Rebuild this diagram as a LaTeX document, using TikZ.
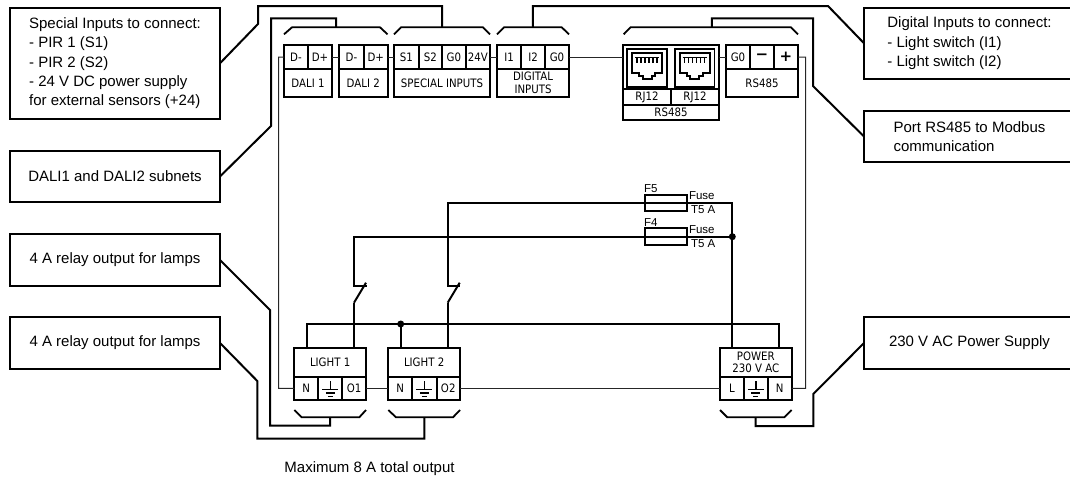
\documentclass[tikz,border=0pt]{standalone}
\usepackage{fontspec}
\setmainfont{Liberation Sans}
\newfontfamily\termfam[FakeStretch=0.88]{DejaVu Sans}
\newfontfamily\signfam{DejaVu Sans Bold}
\tikzset{
 x=1pt,y=-1pt,
 note/.style={draw,line width=2pt,align=left,inner sep=0pt,outer sep=0pt,font=\fontsize{15}{19.3}\selectfont},
 leader/.style={line width=2pt,line join=miter},
 bracket/.style={line width=1.8pt},
 thinwire/.style={line width=1pt,color=black!85},
 power/.style={line width=2pt},
 cellbox/.style={draw,line width=2pt,inner sep=0pt,outer sep=0pt,align=center,font=\termfam\fontsize{11.6}{13.5}\selectfont},
 rjframe/.style={draw,line width=1.6pt,inner sep=0pt,outer sep=0pt},
 small/.style={inner sep=0pt,outer sep=0pt,font=\fontsize{11.5}{13}\selectfont},
 dot/.style={circle,fill=black,inner sep=0pt,minimum size=7pt},
}
% name, x0, y0, x1, y1, text
\newcommand{\cellat}[6]{\node[cellbox,minimum width={#4-#2},minimum height={#5-#3}] (#1) at ({(#2+#4)/2},{(#3+#5)/2}) {#6};}
\newcommand{\noteat}[6]{\node[note,minimum width={#4-#2},minimum height={#5-#3}] (#1) at ({(#2+#4)/2},{(#3+#5)/2}) {#6};}
\newcommand{\earth}[1]{\begin{scope}[shift={(#1.center)}]
 \draw[line width=1.6pt] (0,-7)--(0,1) (-8,1)--(8,1);
 \draw[line width=1.6pt] (-4.5,4.5)--(4.5,4.5);
 \draw[line width=1.6pt] (-2.5,8)--(2.5,8);
 \end{scope}}
\newcommand{\jack}[1]{\begin{scope}[shift={(#1.center)}]
 \draw[line width=2pt,line join=miter] (-14.8,-14.7)--(14.8,-14.7)--(14.8,5.3)--(8,5.3)--(8,8.3)--(4.5,8.3)--(4.5,11.3)--(-4.5,11.3)--(-4.5,8.3)--(-8,8.3)--(-8,5.3)--(-14.8,5.3)--cycle;
 \draw[line width=1.5pt] (-12,-10.7)--(12,-10.7);
 \foreach \px in {-10,-6,-2,2,6,10} \draw[line width=1.5pt] (\px,-10.7)--(\px,-5);
 \end{scope}}
\begin{document}
\begin{tikzpicture}
\useasboundingbox (0,0) rectangle (1070,479);
\begin{scope}
\clip (0,0) rectangle (1070,479);
% callouts
\noteat{nSpecial}{10}{7.5}{220}{119}{Special Inputs to connect:\\- PIR 1 (S1)\\- PIR 2 (S2)\\- 24 V DC power supply\\for external sensors (+24)}
\noteat{nDali}{10}{151}{220}{202}{DALI1 and DALI2 subnets}
\noteat{nRelayA}{10}{234}{220}{286}{4 A relay output for lamps}
\noteat{nRelayB}{10}{317}{220}{369}{4 A relay output for lamps}
\noteat{nDigital}{864}{7.5}{1075}{79}{Digital Inputs to connect:\\- Light switch (I1)\\- Light switch (I2)}
\noteat{nPort}{864}{111}{1075}{162}{Port RS485 to Modbus\\communication}
\noteat{nPower}{864}{317}{1075}{369}{230 V AC Power Supply}
\end{scope}
% top terminals
\cellat{dOneM}{284}{45}{308}{69}{D-}
\cellat{dOneP}{308}{45}{332}{69}{D+}
\cellat{dOneL}{284}{69}{332}{97}{DALI 1}
\cellat{dTwoM}{339}{45}{364}{69}{D-}
\cellat{dTwoP}{364}{45}{387.5}{69}{D+}
\cellat{dTwoL}{339}{69}{387.5}{97}{DALI 2}
\cellat{sOne}{394}{45}{418.5}{69}{S1}
\cellat{sTwo}{418.5}{45}{442}{69}{S2}
\cellat{sGnd}{442}{45}{465.7}{69}{G0}
\cellat{sVolt}{465.7}{45}{490}{69}{24V}
\cellat{sLab}{394}{69}{490}{97}{SPECIAL INPUTS}
\cellat{iOne}{497}{45}{521}{69}{I1}
\cellat{iTwo}{521}{45}{545}{69}{I2}
\cellat{iGnd}{545}{45}{569}{69}{G0}
\cellat{iLab}{497}{69}{569}{97}{DIGITAL\\INPUTS}
% RJ12 block
\cellat{rjBody}{623}{45}{719}{89.3}{}
\cellat{rjLabA}{623}{89.3}{671}{104.7}{RJ12}
\cellat{rjLabB}{671}{89.3}{719}{104.7}{RJ12}
\cellat{rjLab}{623}{104.7}{719}{120}{RS485}
\node[rjframe,minimum width=39.5pt,minimum height=37.5pt] (jackA) at (647,68) {};
\node[rjframe,minimum width=39.5pt,minimum height=37.5pt] (jackB) at (694.7,68) {};
\jack{jackA}
\jack{jackB}
\cellat{rGnd}{726}{45}{750}{69}{G0}
\cellat{rMinus}{750}{45}{774}{69}{\signfam\fontsize{15}{15}\selectfont −}
\cellat{rPlus}{774}{45}{798}{69}{\signfam\fontsize{15}{15}\selectfont +}
\cellat{rLab}{726}{69}{798}{97}{RS485}
% bottom terminals
\cellat{lOneT}{294.3}{348.3}{366}{376.7}{LIGHT 1}
\cellat{lOneN}{294.3}{376.7}{318.3}{400}{N}
\cellat{lOneE}{318.3}{376.7}{342.3}{400}{}
\cellat{lOneO}{342.3}{376.7}{366}{400}{O1}
\cellat{lTwoT}{388.3}{348.3}{460}{376.7}{LIGHT 2}
\cellat{lTwoN}{388.3}{376.7}{412.3}{400}{N}
\cellat{lTwoE}{412.3}{376.7}{436.5}{400}{}
\cellat{lTwoO}{436.5}{376.7}{460}{400}{O2}
\cellat{pwT}{720}{348.3}{791.7}{376.7}{POWER\\[-2pt]230 V AC}
\cellat{pwL}{720}{376.7}{744}{400}{L}
\cellat{pwE}{744}{376.7}{767.7}{400}{}
\cellat{pwN}{767.7}{376.7}{791.7}{400}{N}
\earth{lOneE}
\earth{lTwoE}
\earth{pwE}
% thin wires between terminals
\draw[thinwire] (dOneP.east)--(dTwoM.west);
\draw[thinwire] (dTwoP.east)--(sOne.west);
\draw[thinwire] (sVolt.east)--(iOne.west);
\draw[thinwire] (iGnd.east)--(rjBody.west|-iGnd.east);
\draw[thinwire] (rjBody.east|-rGnd.west)--(rGnd.west);
\draw[thinwire] (dOneM.west)-|(278.5,388.3)--(lOneN.west);
\draw[thinwire] (lOneO.east)--(lTwoN.west);
\draw[thinwire] (lTwoO.east)--(pwL.west);
\draw[thinwire] (rPlus.east)-|(805.7,388.3)--(pwN.east);
% brackets
\coordinate (bDali) at (336,27.3);
\coordinate (bSpec) at (442,27.3);
\coordinate (bDig) at (532.8,27.3);
\coordinate (bRs) at (711.8,27.3);
\coordinate (bLOne) at (330,417.3);
\coordinate (bLTwo) at (424.3,417.3);
\coordinate (bPw) at (755.7,417.3);
\draw[bracket] (284,34.3)--(292,27.3)--(380,27.3)--(387.5,34.3);
\draw[bracket] (394,34.3)--(401,27.3)--(483,27.3)--(490,34.3);
\draw[bracket] (497,34.3)--(504,27.3)--(561.7,27.3)--(569,34.3);
\draw[bracket] (623.7,34.3)--(630.5,27.3)--(791,27.3)--(798,34.3);
\draw[bracket] (294.3,410)--(301.7,417.3)--(359.3,417.3)--(366,410);
\draw[bracket] (388.3,410)--(396,417.3)--(453,417.3)--(460,410);
\draw[bracket] (720,410)--(727.3,417.3)--(784.3,417.3)--(791.7,410);
% leaders
\draw[leader] (nSpecial.east)--(258,24)--(258,6)--(442,6)--(bSpec);
\draw[leader] (nDali.east)--(271,126)--(271,18.3)--(336,18.3)--(bDali);
\draw[leader] (nRelayA.east)--(270,310)--(270,425.7)--(330,425.7)--(bLOne);
\draw[leader] (nRelayB.east)--(257.3,381)--(257.3,438.7)--(424.3,438.7)--(bLTwo);
\draw[leader] (nDigital.west)--(828,6)--(532.8,6)--(bDig);
\draw[leader] (nPort.west)--(813,86)--(813,18.3)--(711.8,18.3)--(bRs);
\draw[leader] (nPower.west)--(813.3,394)--(813.3,426)--(755.7,426)--(bPw);
% fuses
\node[draw,line width=2pt,inner sep=0pt,outer sep=0pt,minimum width=41.7pt,minimum height=16.7pt] (fuseF) at (665.8,203) {};
\node[draw,line width=2pt,inner sep=0pt,outer sep=0pt,minimum width=41.7pt,minimum height=16.7pt] (fuseG) at (665.8,236.7) {};
\node[small,anchor=west] (tF) at (644,189) {F5};
\node[small,anchor=west] (tG) at (644,222.7) {F4};
\node[small,anchor=west] (tFa) at (689,196) {Fuse};
\node[small,anchor=west] (tFb) at (691,210) {T5 A};
\node[small,anchor=west] (tGa) at (689,230) {Fuse};
\node[small,anchor=west] (tGb) at (691,243.5) {T5 A};
% power wiring
\node[dot] (jFuse) at (732.3,236.7) {};
\node[dot] (jNeutral) at (400.7,324) {};
\coordinate (pwA) at (732.3,348.3);
\coordinate (pwB) at (779,348.3);
\coordinate (swA) at (354,302.7);
\coordinate (swB) at (447.7,302.7);
\coordinate (swAup) at (354.3,286);
\coordinate (swBup) at (447.7,286);
\draw[power] (pwA)--(732.3,203.3)--(447.7,203.3)--(swBup)--(460,286);
\draw[power] (jFuse.center)--(354.3,236.7)--(swAup)--(367,286);
\draw[power] (swA)--(366,282.7);
\draw[power] (swB)--(459.7,282.7);
\draw[power] (swA)--(354,348.3);
\draw[power] (swB)--(447.7,348.3);
\draw[power] (306.7,348.3)--(306.7,324)--(779,324)--(pwB);
\draw[power] (jNeutral.center)--(400.7,348.3);
\node[inner sep=0pt,outer sep=0pt,font=\fontsize{15}{17}\selectfont] (tMax) at (369.5,469) {Maximum 8 A total output};
\end{tikzpicture}
\end{document}
